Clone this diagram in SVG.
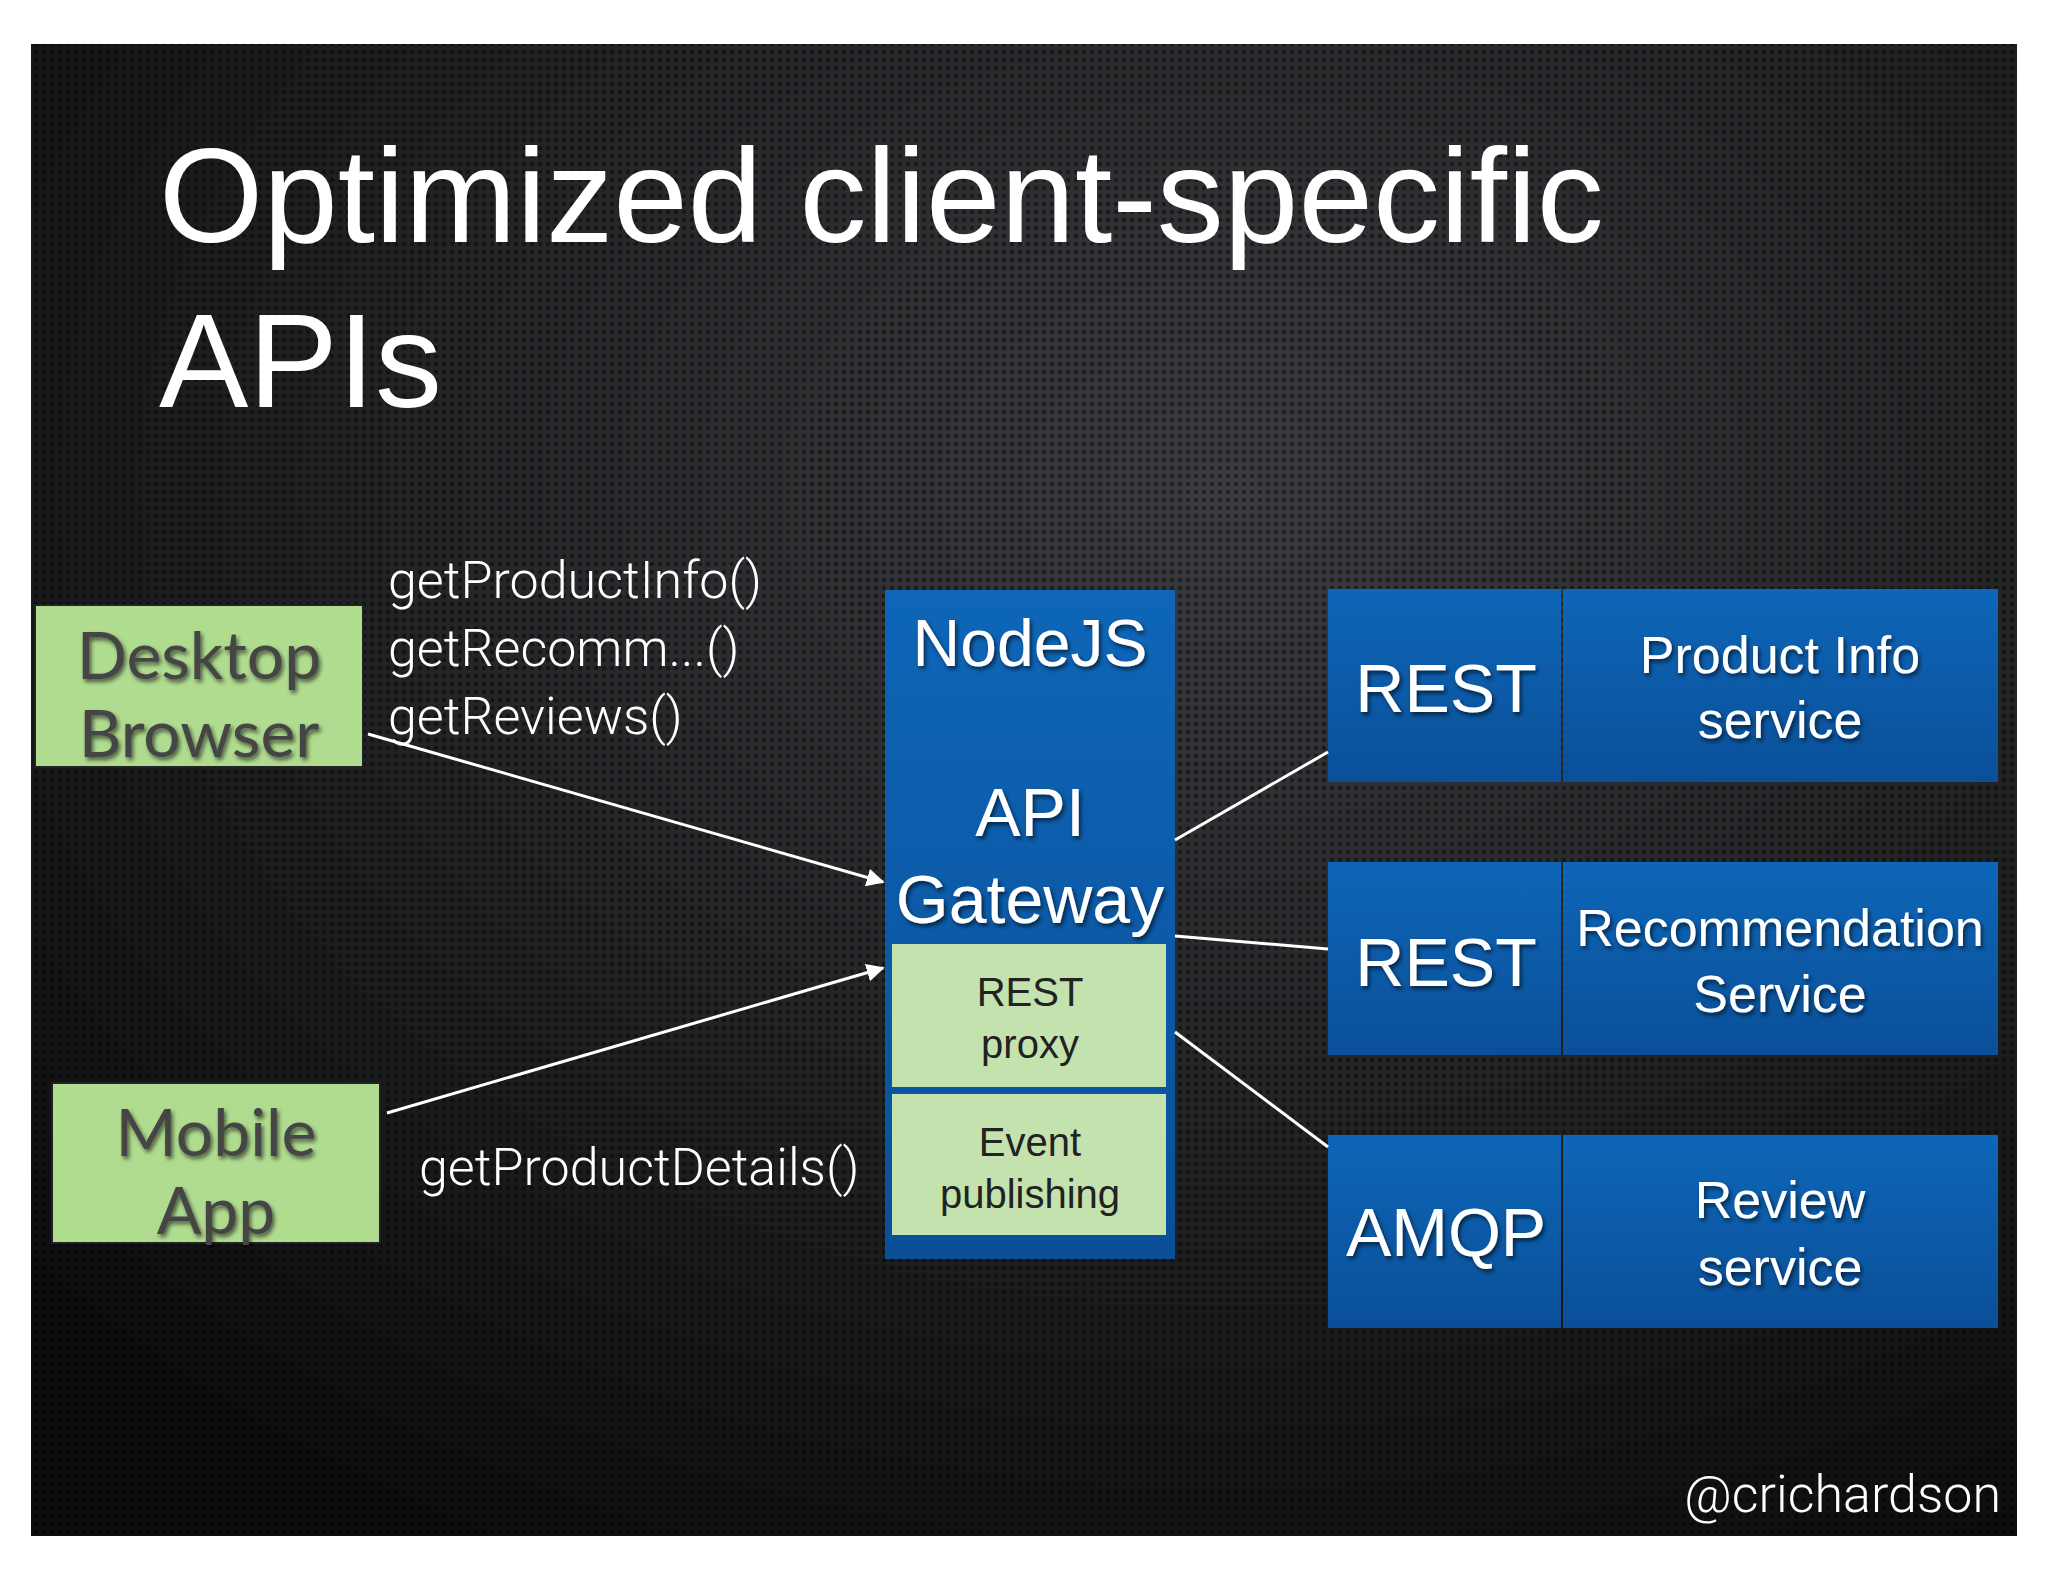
<svg xmlns="http://www.w3.org/2000/svg" width="2048" height="1582" viewBox="0 0 2048 1582">
<defs>
<radialGradient id="bg" cx="0.6" cy="0.3" r="0.8">
<stop offset="0" stop-color="#3a3c3f"/><stop offset="1" stop-color="#0c0d0e"/>
</radialGradient>
<pattern id="dots" width="8" height="8" patternUnits="userSpaceOnUse">
<circle cx="4" cy="4" r="2.2" fill="#000" fill-opacity="0.45"/>
</pattern>
<linearGradient id="blue" x1="0" y1="0" x2="0" y2="1">
<stop offset="0" stop-color="#0e66b8"/><stop offset="1" stop-color="#0a4f98"/>
</linearGradient>
<marker id="ah" viewBox="0 0 10 10" refX="9" refY="5" markerWidth="6" markerHeight="6" orient="auto">
<path d="M0,0 L10,5 L0,10 z" fill="#fff"/>
</marker>
<filter id="sh"><feDropShadow dx="2" dy="3" stdDeviation="2" flood-opacity="0.6"/></filter>
</defs>
<style>
.t{font-family:"Liberation Sans",Arial,sans-serif;fill:#fff}
.lbl{font-family:Roboto,"Liberation Sans",sans-serif;font-weight:300;fill:#fff;font-size:52px}
.g{font-family:Lato,"Liberation Sans",sans-serif;fill:#444;font-size:66px;text-anchor:middle}
.gr{fill:#b0dc90;stroke:#222;stroke-width:2}
.bl{fill:url(#blue)}
.w{font-family:"Liberation Sans",Arial,sans-serif;fill:#fff;text-anchor:middle;filter:url(#sh)}
.d{font-family:"Liberation Sans",Arial,sans-serif;fill:#222;text-anchor:middle;font-size:40px}
.ln{stroke:#fff;stroke-width:3;fill:none}
</style>
<rect width="2048" height="1582" fill="#fff"/>
<rect x="31" y="44" width="1986" height="1492" fill="url(#bg)"/>
<rect x="31" y="44" width="1986" height="1492" fill="url(#dots)"/>
<text class="t" x="159" y="242" font-size="134">Optimized client-specific</text>
<text class="t" x="159" y="407" font-size="134">APIs</text>
<g id="desktop"><rect class="gr" x="35" y="605" width="328" height="162"/>
<text class="g" x="199" y="679" filter="url(#sh)">Desktop</text><text class="g" x="199" y="757" filter="url(#sh)">Browser</text></g>
<g id="mobile"><rect class="gr" x="52" y="1083" width="328" height="160"/>
<text class="g" x="216" y="1156" filter="url(#sh)">Mobile</text><text class="g" x="216" y="1234" filter="url(#sh)">App</text></g>
<g id="labels">
<text class="lbl" x="388" y="598">getProductInfo()</text>
<text class="lbl" x="388" y="666">getRecomm...()</text>
<text class="lbl" x="388" y="734">getReviews()</text>
<text class="lbl" x="419" y="1185">getProductDetails()</text>
</g>
<g id="gateway"><rect class="bl" x="885" y="590" width="290" height="669"/>
<text class="w" x="1030" y="666" font-size="66">NodeJS</text>
<text class="w" x="1030" y="836" font-size="68">API</text>
<text class="w" x="1030" y="923" font-size="68">Gateway</text>
<rect fill="#c4e2ae" x="892" y="944" width="274" height="143"/>
<text class="d" x="1030" y="1006">REST</text><text class="d" x="1030" y="1058">proxy</text>
<rect fill="#c4e2ae" x="892" y="1094" width="274" height="141"/>
<text class="d" x="1030" y="1156">Event</text><text class="d" x="1030" y="1208">publishing</text>
</g>
<g id="product"><rect class="bl" x="1328" y="589" width="233" height="193"/><rect class="bl" x="1563" y="589" width="435" height="193"/>
<text class="w" x="1446" y="712" font-size="68">REST</text>
<text class="w" x="1780" y="673" font-size="52">Product Info</text><text class="w" x="1780" y="738" font-size="52">service</text></g>
<g id="recommendation"><rect class="bl" x="1328" y="862" width="233" height="193"/><rect class="bl" x="1563" y="862" width="435" height="193"/>
<text class="w" x="1446" y="986" font-size="68">REST</text>
<text class="w" x="1780" y="946" font-size="52">Recommendation</text><text class="w" x="1780" y="1012" font-size="52">Service</text></g>
<g id="review"><rect class="bl" x="1328" y="1135" width="233" height="193"/><rect class="bl" x="1563" y="1135" width="435" height="193"/>
<text class="w" x="1446" y="1256" font-size="68">AMQP</text>
<text class="w" x="1780" y="1218" font-size="52">Review</text><text class="w" x="1780" y="1285" font-size="52">service</text></g>
<g id="connectors">
<line class="ln" x1="368" y1="734" x2="883" y2="882" marker-end="url(#ah)"/>
<line class="ln" x1="387" y1="1113" x2="883" y2="968" marker-end="url(#ah)"/>
<line class="ln" x1="1175" y1="840" x2="1328" y2="752"/>
<line class="ln" x1="1175" y1="936" x2="1328" y2="949"/>
<line class="ln" x1="1175" y1="1032" x2="1328" y2="1147"/>
</g>
<text class="lbl" x="2001" y="1512" font-size="40" text-anchor="end">@crichardson</text>
</svg>
